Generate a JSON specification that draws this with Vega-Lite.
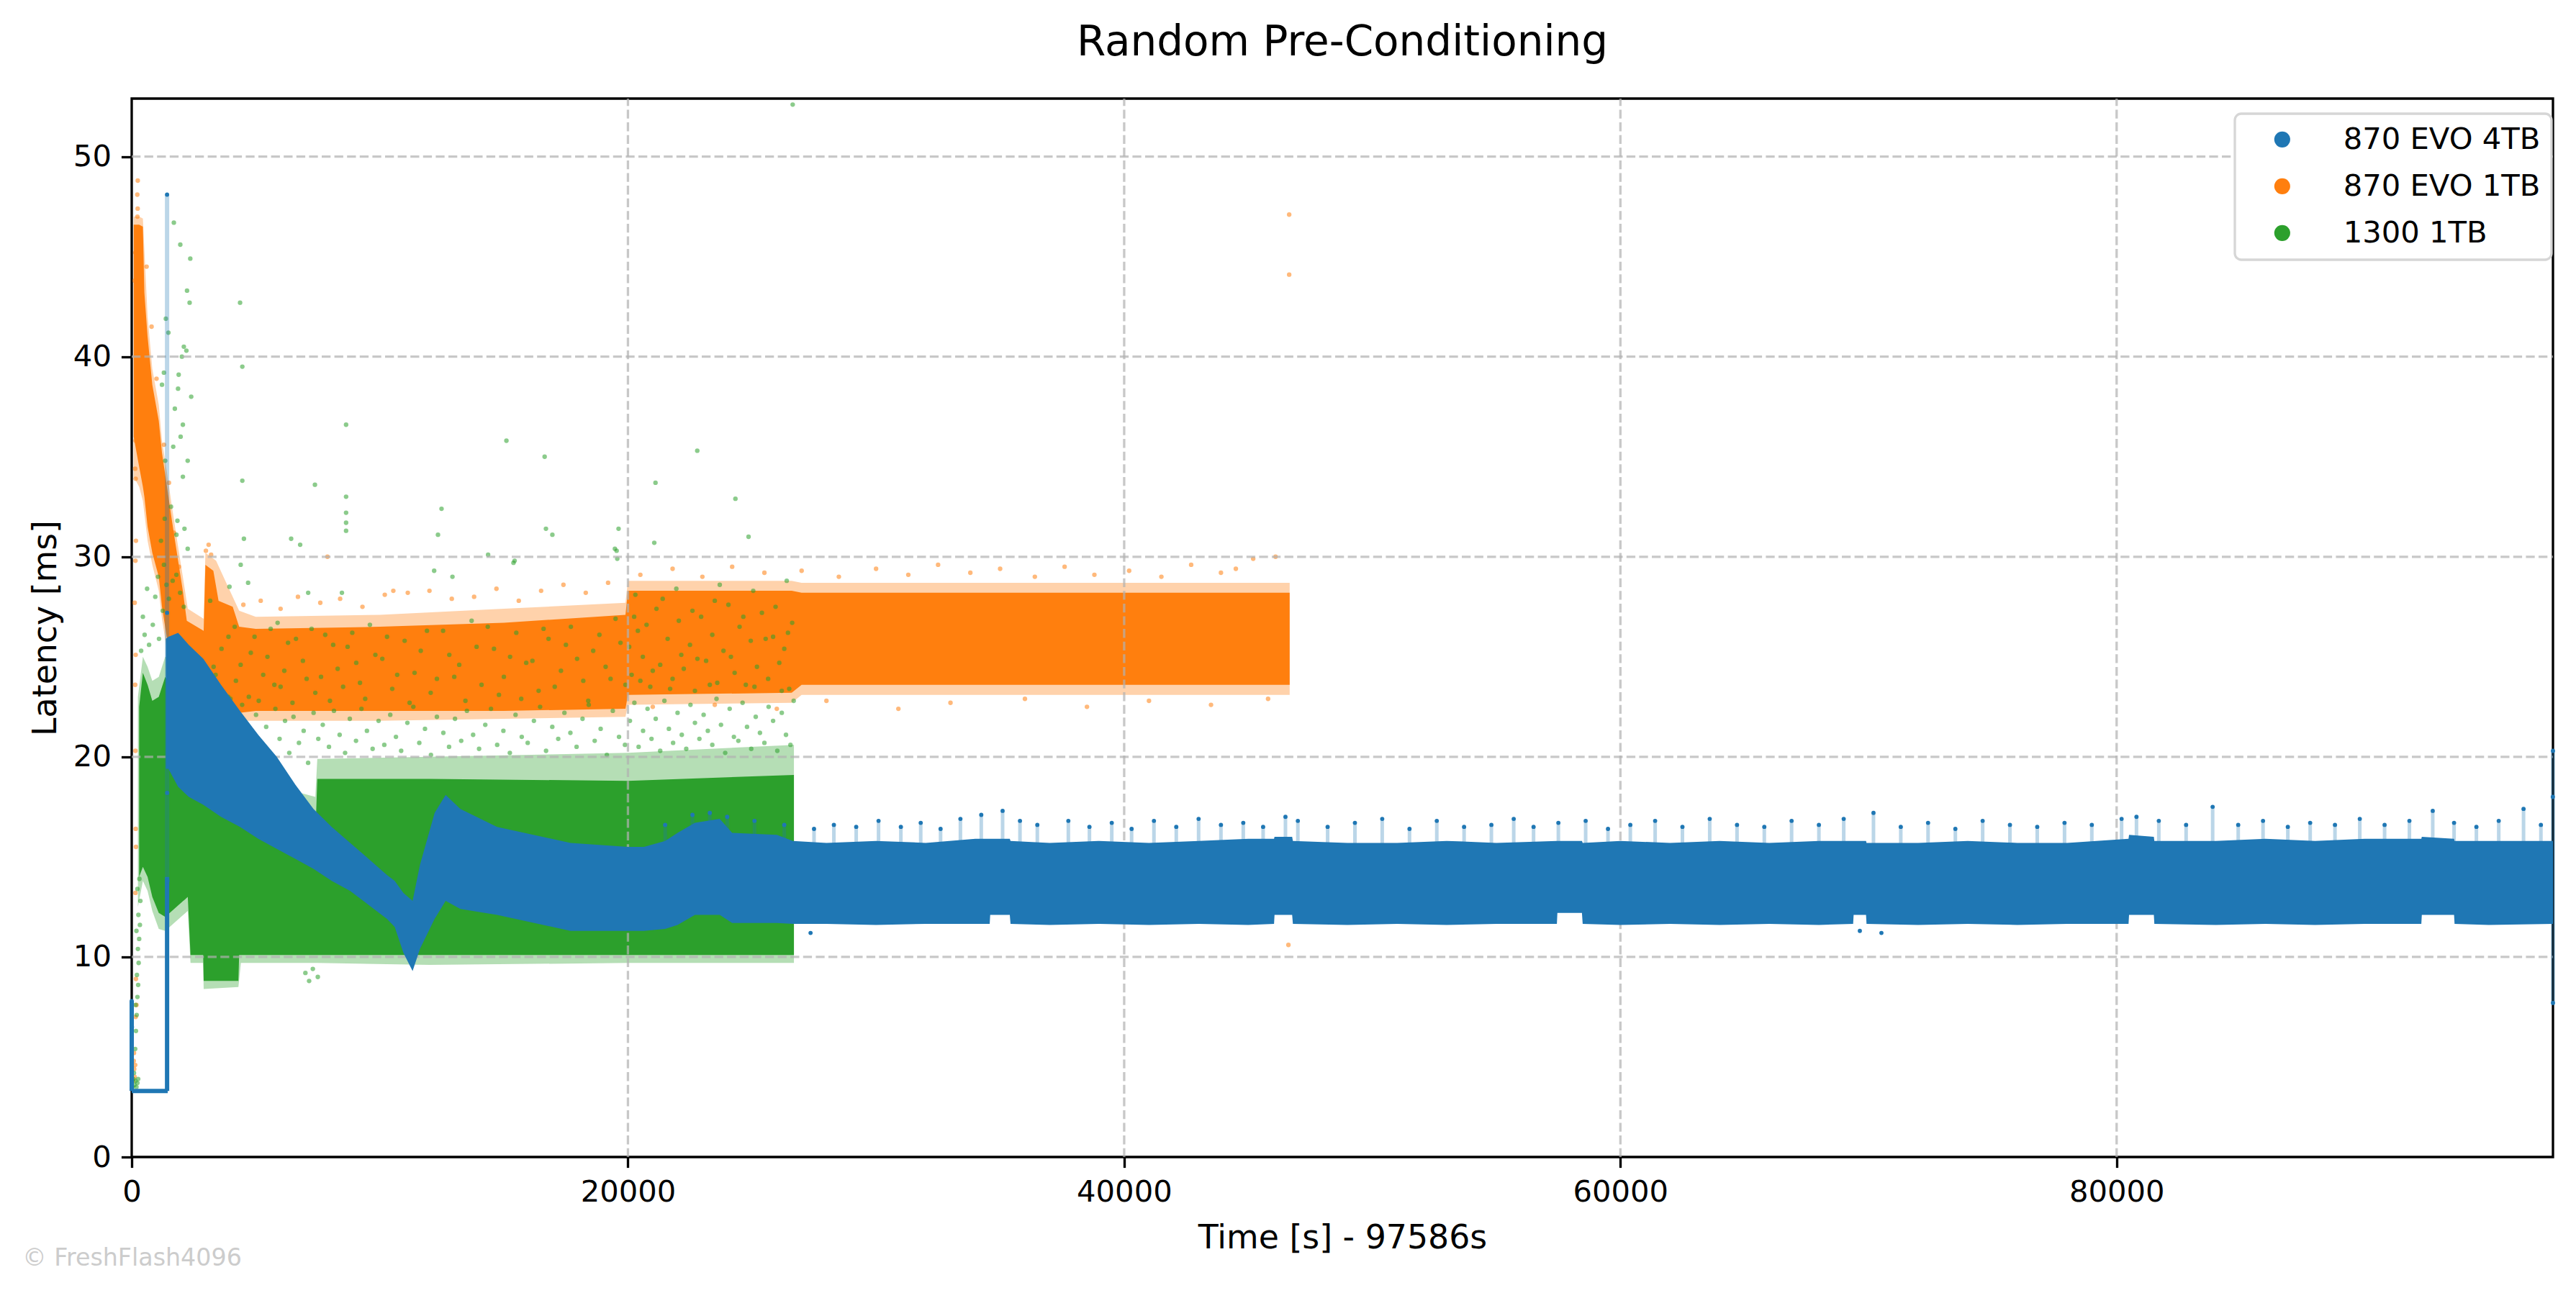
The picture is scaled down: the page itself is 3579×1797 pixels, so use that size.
{
  "$schema": "https://vega.github.io/schema/vega-lite/v6.json",
  "description": "Random Pre-Conditioning latency, three SSDs",
  "background": "white",
  "autosize": {"type": "none"},
  "padding": {"left": 183, "top": 137, "right": 32, "bottom": 189},
  "width": 3364,
  "height": 1471,
  "title": {"text": "Random Pre-Conditioning", "font": "DejaVu Sans", "fontSize": 58, "fontWeight": "normal", "color": "black", "anchor": "middle", "offset": 46},
  "datasets": {
    "oHalo": [
      {"x": 80, "y": 34, "y2": 47}, {"x": 300, "y": 33.5, "y2": 47}, {"x": 450, "y": 32.8, "y2": 46.9},
      {"x": 640, "y": 30.8, "y2": 42}, {"x": 830, "y": 29.6, "y2": 39.4}, {"x": 1090, "y": 28.3, "y2": 37.6},
      {"x": 1220, "y": 26.9, "y2": 35.8}, {"x": 1410, "y": 25.4, "y2": 34.3}, {"x": 1610, "y": 24.9, "y2": 32.6},
      {"x": 1870, "y": 24.2, "y2": 30.5}, {"x": 2060, "y": 23.9, "y2": 29}, {"x": 2260, "y": 23.9, "y2": 27.4},
      {"x": 2900, "y": 23.5, "y2": 26.9}, {"x": 2970, "y": 23.5, "y2": 30.2}, {"x": 3400, "y": 23.2, "y2": 29.8},
      {"x": 3810, "y": 22.4, "y2": 28.7}, {"x": 4330, "y": 21.8, "y2": 27.3}, {"x": 5000, "y": 21.8, "y2": 27},
      {"x": 10000, "y": 21.8, "y2": 27.1}, {"x": 15000, "y": 21.9, "y2": 27.4}, {"x": 19900, "y": 22, "y2": 27.7},
      {"x": 20000, "y": 22.6, "y2": 28.8}, {"x": 26600, "y": 22.7, "y2": 28.8}, {"x": 27000, "y": 23.1, "y2": 28.7},
      {"x": 46670, "y": 23.1, "y2": 28.7}
    ],
    "oCore": [
      {"x": 80, "y": 36, "y2": 46.6}, {"x": 300, "y": 34.5, "y2": 46.6}, {"x": 450, "y": 33.5, "y2": 46.5},
      {"x": 510, "y": 33, "y2": 43.2}, {"x": 640, "y": 31.5, "y2": 41}, {"x": 830, "y": 30.2, "y2": 38.6},
      {"x": 1090, "y": 29, "y2": 36.8}, {"x": 1220, "y": 27.5, "y2": 35.2}, {"x": 1410, "y": 26, "y2": 33.6},
      {"x": 1610, "y": 25.5, "y2": 31.9}, {"x": 1870, "y": 24.8, "y2": 29.8}, {"x": 2060, "y": 24.5, "y2": 28.3},
      {"x": 2220, "y": 24.5, "y2": 26.8}, {"x": 2900, "y": 24.2, "y2": 26.3}, {"x": 2970, "y": 24, "y2": 29.6},
      {"x": 3290, "y": 23.8, "y2": 29.3}, {"x": 3500, "y": 23.2, "y2": 27.8}, {"x": 4070, "y": 22.2, "y2": 27.5},
      {"x": 4330, "y": 22.2, "y2": 26.5}, {"x": 5000, "y": 22.3, "y2": 26.4}, {"x": 10000, "y": 22.3, "y2": 26.5},
      {"x": 15000, "y": 22.3, "y2": 26.7}, {"x": 19900, "y": 22.4, "y2": 27.1}, {"x": 20000, "y": 23.1, "y2": 28.3},
      {"x": 26600, "y": 23.2, "y2": 28.3}, {"x": 27000, "y": 23.6, "y2": 28.2}, {"x": 46670, "y": 23.6, "y2": 28.2}
    ],
    "gHalo": [
      {"x": 250, "y": 12.5, "y2": 23}, {"x": 450, "y": 13.8, "y2": 25}, {"x": 640, "y": 13.3, "y2": 24.5},
      {"x": 830, "y": 12.3, "y2": 23.8}, {"x": 1090, "y": 11.4, "y2": 24}, {"x": 1350, "y": 11.3, "y2": 25},
      {"x": 2260, "y": 12.3, "y2": 24.5}, {"x": 2370, "y": 9.7, "y2": 21}, {"x": 2880, "y": 9.7, "y2": 20.5},
      {"x": 2900, "y": 8.4, "y2": 20.5}, {"x": 4300, "y": 8.5, "y2": 19.5}, {"x": 4400, "y": 9.7, "y2": 19},
      {"x": 7400, "y": 9.7, "y2": 18}, {"x": 7480, "y": 9.7, "y2": 19.9}, {"x": 12000, "y": 9.6, "y2": 20},
      {"x": 20000, "y": 9.7, "y2": 20.2}, {"x": 26690, "y": 9.7, "y2": 20.6}
    ],
    "gCore": [
      {"x": 300, "y": 14, "y2": 22.5}, {"x": 450, "y": 14.5, "y2": 24.2}, {"x": 640, "y": 14, "y2": 23.6},
      {"x": 830, "y": 13, "y2": 22.8}, {"x": 1090, "y": 12.2, "y2": 23}, {"x": 1350, "y": 12, "y2": 24},
      {"x": 2260, "y": 13, "y2": 22}, {"x": 2370, "y": 10.1, "y2": 19}, {"x": 2880, "y": 10.1, "y2": 18.5},
      {"x": 2900, "y": 8.8, "y2": 18.5}, {"x": 4300, "y": 8.8, "y2": 17.5}, {"x": 4330, "y": 10.1, "y2": 17.5},
      {"x": 7400, "y": 10.1, "y2": 16}, {"x": 7480, "y": 10.1, "y2": 18.9}, {"x": 12000, "y": 10.1, "y2": 18.9},
      {"x": 20000, "y": 10.1, "y2": 18.8}, {"x": 26690, "y": 10.1, "y2": 19.1}
    ],
    "bCore": [
      {"x": 1375, "y": 19.4, "y2": 25.9}, {"x": 1480, "y": 19.4, "y2": 26}, {"x": 1870, "y": 18.5, "y2": 26.2},
      {"x": 2300, "y": 18, "y2": 25.6}, {"x": 2885, "y": 17.6, "y2": 24.9}, {"x": 3600, "y": 17, "y2": 23.6},
      {"x": 4365, "y": 16.5, "y2": 22.3}, {"x": 5100, "y": 15.9, "y2": 21.1}, {"x": 5845, "y": 15.4, "y2": 20},
      {"x": 6600, "y": 14.9, "y2": 18.6}, {"x": 7325, "y": 14.4, "y2": 17.4}, {"x": 8060, "y": 13.8, "y2": 16.5},
      {"x": 8805, "y": 13.3, "y2": 15.7}, {"x": 9550, "y": 12.6, "y2": 14.9}, {"x": 10285, "y": 11.9, "y2": 14.1},
      {"x": 10600, "y": 11.5, "y2": 13.8}, {"x": 10950, "y": 10.2, "y2": 13.2}, {"x": 11321, "y": 9.3, "y2": 12.8},
      {"x": 11617, "y": 10.4, "y2": 14.6}, {"x": 12209, "y": 11.9, "y2": 17.2}, {"x": 12653, "y": 12.8, "y2": 18.1},
      {"x": 13245, "y": 12.4, "y2": 17.4}, {"x": 14725, "y": 12.1, "y2": 16.5}, {"x": 17685, "y": 11.3, "y2": 15.7},
      {"x": 20000, "y": 11.3, "y2": 15.5}, {"x": 20645, "y": 11.3, "y2": 15.5}, {"x": 21500, "y": 11.4, "y2": 15.8},
      {"x": 22000, "y": 11.6, "y2": 16.2}, {"x": 22700, "y": 12.1, "y2": 16.7},
      {"x": 23700, "y": 12.1, "y2": 16.9}, {"x": 24200, "y": 11.7, "y2": 16.2}, {"x": 26000, "y": 11.7, "y2": 16.1},
      {"x": 26650, "y": 11.65, "y2": 15.8}, {"x": 28000, "y": 11.65, "y2": 15.7}, {"x": 30000, "y": 11.6, "y2": 15.8},
      {"x": 32000, "y": 11.65, "y2": 15.7}, {"x": 34000, "y": 11.65, "y2": 15.9}, {"x": 34580, "y": 11.65, "y2": 15.9},
      {"x": 34600, "y": 12.1, "y2": 15.9}, {"x": 35390, "y": 12.1, "y2": 15.9}, {"x": 35420, "y": 11.65, "y2": 15.8},
      {"x": 37000, "y": 11.6, "y2": 15.7}, {"x": 39000, "y": 11.65, "y2": 15.8}, {"x": 41000, "y": 11.6, "y2": 15.7},
      {"x": 43000, "y": 11.65, "y2": 15.8}, {"x": 45000, "y": 11.6, "y2": 15.9}, {"x": 46040, "y": 11.65, "y2": 15.9},
      {"x": 46060, "y": 12.1, "y2": 16}, {"x": 46770, "y": 12.1, "y2": 16}, {"x": 46800, "y": 11.65, "y2": 15.8},
      {"x": 49000, "y": 11.6, "y2": 15.7}, {"x": 51000, "y": 11.65, "y2": 15.7}, {"x": 53000, "y": 11.6, "y2": 15.8},
      {"x": 55000, "y": 11.65, "y2": 15.7}, {"x": 57440, "y": 11.65, "y2": 15.8}, {"x": 57460, "y": 12.2, "y2": 15.8},
      {"x": 58450, "y": 12.2, "y2": 15.8}, {"x": 58480, "y": 11.65, "y2": 15.7}, {"x": 60000, "y": 11.6, "y2": 15.8},
      {"x": 62000, "y": 11.65, "y2": 15.7}, {"x": 64000, "y": 11.6, "y2": 15.8}, {"x": 66000, "y": 11.65, "y2": 15.7},
      {"x": 68000, "y": 11.6, "y2": 15.8}, {"x": 69380, "y": 11.65, "y2": 15.8}, {"x": 69400, "y": 12.1, "y2": 15.8},
      {"x": 69900, "y": 12.1, "y2": 15.8}, {"x": 69920, "y": 11.65, "y2": 15.7}, {"x": 72000, "y": 11.6, "y2": 15.7},
      {"x": 74000, "y": 11.65, "y2": 15.8}, {"x": 76000, "y": 11.6, "y2": 15.7}, {"x": 78000, "y": 11.65, "y2": 15.7},
      {"x": 80480, "y": 11.65, "y2": 15.9}, {"x": 80500, "y": 12.1, "y2": 16.1}, {"x": 81500, "y": 12.1, "y2": 16},
      {"x": 81520, "y": 11.65, "y2": 15.8}, {"x": 84000, "y": 11.6, "y2": 15.8}, {"x": 86000, "y": 11.65, "y2": 15.9},
      {"x": 88000, "y": 11.6, "y2": 15.8}, {"x": 90000, "y": 11.65, "y2": 15.9}, {"x": 92280, "y": 11.65, "y2": 15.9},
      {"x": 92300, "y": 12.1, "y2": 16}, {"x": 93600, "y": 12.1, "y2": 15.9}, {"x": 93620, "y": 11.65, "y2": 15.8},
      {"x": 95000, "y": 11.6, "y2": 15.8}, {"x": 97586, "y": 11.65, "y2": 15.8}
    ],
    "oPts": [
      {"x": 244, "y": 48.8}, {"x": 225, "y": 48.1}, {"x": 240, "y": 47.4}, {"x": 230, "y": 47}, {"x": 150, "y": 45.2},
      {"x": 120, "y": 43.8}, {"x": 158, "y": 35.8}, {"x": 140, "y": 34.4}, {"x": 160, "y": 33.9}, {"x": 170, "y": 30.8},
      {"x": 150, "y": 29.8}, {"x": 120, "y": 27.7}, {"x": 160, "y": 25.1}, {"x": 140, "y": 23.6}, {"x": 150, "y": 20.3},
      {"x": 160, "y": 16.4}, {"x": 170, "y": 15.5}, {"x": 150, "y": 13.2}, {"x": 170, "y": 8.9}, {"x": 190, "y": 7.6},
      {"x": 160, "y": 7}, {"x": 80, "y": 4.8}, {"x": 100, "y": 4.4}, {"x": 120, "y": 4}, {"x": 60, "y": 3.8},
      {"x": 140, "y": 4.6}, {"x": 90, "y": 5.2}, {"x": 600, "y": 44.5}, {"x": 800, "y": 41.5}, {"x": 1000, "y": 38.9},
      {"x": 1300, "y": 35.6}, {"x": 1500, "y": 33.7}, {"x": 1700, "y": 31.2}, {"x": 1900, "y": 29.5},
      {"x": 2990, "y": 30.3}, {"x": 3100, "y": 30.6}, {"x": 3200, "y": 30.1}, {"x": 4500, "y": 27.6}, {"x": 5200, "y": 27.8},
      {"x": 6000, "y": 27.4}, {"x": 6700, "y": 28}, {"x": 7600, "y": 27.7}, {"x": 7889, "y": 30}, {"x": 8400, "y": 27.9},
      {"x": 9300, "y": 27.5}, {"x": 10200, "y": 28.1}, {"x": 10544, "y": 28.3}, {"x": 11127, "y": 28.2}, {"x": 12000, "y": 28.3},
      {"x": 12900, "y": 27.9}, {"x": 13800, "y": 28}, {"x": 14700, "y": 28.4}, {"x": 15600, "y": 27.8}, {"x": 16500, "y": 28.3},
      {"x": 17400, "y": 28.6}, {"x": 18300, "y": 28.2}, {"x": 19200, "y": 28.7}, {"x": 20500, "y": 29.1}, {"x": 21800, "y": 29.4},
      {"x": 23000, "y": 29}, {"x": 24200, "y": 29.5}, {"x": 25500, "y": 29.2}, {"x": 27000, "y": 29.3}, {"x": 28500, "y": 29},
      {"x": 30000, "y": 29.4}, {"x": 31300, "y": 29.1}, {"x": 32500, "y": 29.6}, {"x": 33800, "y": 29.2}, {"x": 35000, "y": 29.4},
      {"x": 36400, "y": 29}, {"x": 37600, "y": 29.5}, {"x": 38800, "y": 29.1}, {"x": 40200, "y": 29.3}, {"x": 41500, "y": 29},
      {"x": 42700, "y": 29.6}, {"x": 43900, "y": 29.2}, {"x": 44500, "y": 29.4}, {"x": 45200, "y": 29.9}, {"x": 46100, "y": 30},
      {"x": 21000, "y": 22.5}, {"x": 23500, "y": 22.6}, {"x": 26000, "y": 22.4}, {"x": 28000, "y": 22.8}, {"x": 30900, "y": 22.4},
      {"x": 33000, "y": 22.7}, {"x": 36000, "y": 22.9}, {"x": 38500, "y": 22.5}, {"x": 41000, "y": 22.8}, {"x": 43500, "y": 22.6},
      {"x": 45800, "y": 22.9}, {"x": 46650, "y": 47.1}, {"x": 46650, "y": 44.1}, {"x": 46620, "y": 10.6}
    ],
    "gPts": [
      {"x": 30, "y": 3.5}, {"x": 70, "y": 3.9}, {"x": 110, "y": 3.6}, {"x": 150, "y": 3.8}, {"x": 190, "y": 3.5},
      {"x": 230, "y": 3.7}, {"x": 260, "y": 3.9}, {"x": 90, "y": 4.2}, {"x": 140, "y": 5.4}, {"x": 170, "y": 6.3},
      {"x": 200, "y": 7.1}, {"x": 160, "y": 7.6}, {"x": 230, "y": 8}, {"x": 260, "y": 8.6}, {"x": 210, "y": 9.1},
      {"x": 280, "y": 9.7}, {"x": 250, "y": 10.4}, {"x": 300, "y": 10.9}, {"x": 330, "y": 11.6}, {"x": 270, "y": 12.1},
      {"x": 190, "y": 11.3}, {"x": 350, "y": 12.8}, {"x": 230, "y": 13.4}, {"x": 310, "y": 13.9},
      {"x": 380, "y": 25.3}, {"x": 520, "y": 26.1}, {"x": 450, "y": 27}, {"x": 700, "y": 25.6}, {"x": 850, "y": 26.6},
      {"x": 950, "y": 28}, {"x": 1100, "y": 25.9}, {"x": 1250, "y": 27.3}, {"x": 1300, "y": 29.6}, {"x": 1180, "y": 30.8},
      {"x": 1330, "y": 31.9}, {"x": 1060, "y": 29}, {"x": 620, "y": 28.4}, {"x": 1400, "y": 28.6}, {"x": 1500, "y": 27.9},
      {"x": 1650, "y": 28.8}, {"x": 1800, "y": 29.1}, {"x": 1950, "y": 28.2}, {"x": 2100, "y": 27.5},
      {"x": 1699, "y": 46.7}, {"x": 1958, "y": 45.6}, {"x": 2360, "y": 44.9}, {"x": 2230, "y": 43.3}, {"x": 2334, "y": 42.7},
      {"x": 4367, "y": 42.7}, {"x": 1375, "y": 41.9}, {"x": 1479, "y": 41.2}, {"x": 2101, "y": 40.5}, {"x": 2204, "y": 40.3},
      {"x": 2023, "y": 40}, {"x": 4458, "y": 39.5}, {"x": 1893, "y": 39.1}, {"x": 1298, "y": 39.2}, {"x": 2398, "y": 38},
      {"x": 1868, "y": 38.4}, {"x": 8640, "y": 36.6}, {"x": 1220, "y": 38.6}, {"x": 1738, "y": 37.4}, {"x": 2062, "y": 36.6},
      {"x": 1971, "y": 36}, {"x": 1673, "y": 35.5}, {"x": 2256, "y": 34.8}, {"x": 1350, "y": 34.8}, {"x": 2062, "y": 34},
      {"x": 4458, "y": 33.8}, {"x": 7384, "y": 33.6}, {"x": 15102, "y": 35.8}, {"x": 16643, "y": 35}, {"x": 8640, "y": 33},
      {"x": 8640, "y": 32.2}, {"x": 8640, "y": 31.7}, {"x": 8640, "y": 31.3}, {"x": 12487, "y": 32.4}, {"x": 12344, "y": 31.1},
      {"x": 16695, "y": 31.4}, {"x": 16954, "y": 31.1}, {"x": 19622, "y": 31.4}, {"x": 4522, "y": 30.9}, {"x": 6426, "y": 30.9},
      {"x": 6789, "y": 30.6}, {"x": 14364, "y": 30.1}, {"x": 19544, "y": 30.3}, {"x": 1842, "y": 31.8}, {"x": 2127, "y": 31.4},
      {"x": 1583, "y": 32.5}, {"x": 1803, "y": 31.1}, {"x": 2256, "y": 30.4}, {"x": 4393, "y": 29.6}, {"x": 4691, "y": 28.7},
      {"x": 7112, "y": 28.2}, {"x": 8472, "y": 28.2}, {"x": 12189, "y": 29.3}, {"x": 12927, "y": 29}, {"x": 15387, "y": 29.7},
      {"x": 3940, "y": 28.5}, {"x": 3163, "y": 27.8}, {"x": 19570, "y": 29.9}, {"x": 26640, "y": 52.6}, {"x": 21110, "y": 33.7},
      {"x": 22794, "y": 35.3}, {"x": 24332, "y": 32.9}, {"x": 24861, "y": 31}, {"x": 21061, "y": 30.7}, {"x": 19474, "y": 30.4},
      {"x": 15433, "y": 29.8},
      {"x": 3300, "y": 24.5}, {"x": 3900, "y": 26}, {"x": 4200, "y": 23.8}, {"x": 4800, "y": 25.2}, {"x": 5300, "y": 24.1},
      {"x": 5600, "y": 26.4}, {"x": 6000, "y": 23.5}, {"x": 6300, "y": 25.7}, {"x": 6900, "y": 24.8}, {"x": 7400, "y": 23.2},
      {"x": 7800, "y": 26.1}, {"x": 8300, "y": 24.4}, {"x": 8700, "y": 25.5}, {"x": 9200, "y": 23.7}, {"x": 9600, "y": 26.6},
      {"x": 10100, "y": 24.9}, {"x": 10500, "y": 23.4}, {"x": 11000, "y": 25.8}, {"x": 11400, "y": 24.2}, {"x": 11900, "y": 26.3},
      {"x": 12300, "y": 23.9}, {"x": 12800, "y": 25.1}, {"x": 13200, "y": 24.6}, {"x": 13700, "y": 26.8}, {"x": 14100, "y": 23.6},
      {"x": 14600, "y": 25.4}, {"x": 15000, "y": 24}, {"x": 15500, "y": 26.2}, {"x": 15900, "y": 24.7}, {"x": 16400, "y": 23.3},
      {"x": 16800, "y": 25.9}, {"x": 17300, "y": 24.3}, {"x": 17700, "y": 26.5}, {"x": 18200, "y": 23.8}, {"x": 18600, "y": 25.3},
      {"x": 19100, "y": 24.5}, {"x": 19500, "y": 26.9}, {"x": 19900, "y": 23.6},
      {"x": 3450, "y": 23.1}, {"x": 3620, "y": 25.4}, {"x": 3980, "y": 22.9}, {"x": 4150, "y": 26.5}, {"x": 4390, "y": 24.6},
      {"x": 4720, "y": 23}, {"x": 4950, "y": 26}, {"x": 5120, "y": 22.8}, {"x": 5470, "y": 25}, {"x": 5750, "y": 23.6},
      {"x": 5880, "y": 26.7}, {"x": 6150, "y": 24.3}, {"x": 6480, "y": 22.7}, {"x": 6620, "y": 25.9}, {"x": 7050, "y": 23.9},
      {"x": 7250, "y": 26.4}, {"x": 7630, "y": 24}, {"x": 7990, "y": 22.8}, {"x": 8120, "y": 25.6}, {"x": 8520, "y": 23.5},
      {"x": 8890, "y": 26.2}, {"x": 9050, "y": 24.7}, {"x": 9410, "y": 22.9}, {"x": 9820, "y": 25.1}, {"x": 10290, "y": 26},
      {"x": 10700, "y": 24.1}, {"x": 11200, "y": 22.7}, {"x": 11650, "y": 25.3}, {"x": 12050, "y": 23.2}, {"x": 12550, "y": 26.3},
      {"x": 13000, "y": 24}, {"x": 13450, "y": 22.8}, {"x": 13900, "y": 25.5}, {"x": 14350, "y": 26.5}, {"x": 14800, "y": 23.1},
      {"x": 15250, "y": 25}, {"x": 15700, "y": 22.9}, {"x": 16150, "y": 24.8}, {"x": 16600, "y": 26.4}, {"x": 17050, "y": 23.5},
      {"x": 17500, "y": 25.6}, {"x": 17950, "y": 24.9}, {"x": 18400, "y": 22.8}, {"x": 18850, "y": 26.1}, {"x": 19300, "y": 23.9},
      {"x": 19700, "y": 25.7},
      {"x": 20150, "y": 24.1}, {"x": 20400, "y": 26.3}, {"x": 20600, "y": 25}, {"x": 20900, "y": 23.5}, {"x": 21150, "y": 27.4},
      {"x": 21300, "y": 24.6}, {"x": 21600, "y": 25.9}, {"x": 21800, "y": 23.9}, {"x": 22050, "y": 26.8}, {"x": 22250, "y": 24.4},
      {"x": 22500, "y": 25.6}, {"x": 22700, "y": 23.3}, {"x": 22950, "y": 27}, {"x": 23150, "y": 24.8}, {"x": 23400, "y": 26.1},
      {"x": 23600, "y": 23.7}, {"x": 23850, "y": 25.3}, {"x": 24050, "y": 27.6}, {"x": 24300, "y": 24.2}, {"x": 24500, "y": 26.5},
      {"x": 24750, "y": 23.6}, {"x": 24950, "y": 25.8}, {"x": 25200, "y": 24.5}, {"x": 25400, "y": 27.2}, {"x": 25650, "y": 23.9},
      {"x": 25850, "y": 26}, {"x": 26100, "y": 24.7}, {"x": 26300, "y": 25.4}, {"x": 26500, "y": 23.4}, {"x": 26620, "y": 26.7},
      {"x": 20300, "y": 28.1}, {"x": 21950, "y": 28.4}, {"x": 23700, "y": 28.6}, {"x": 25050, "y": 28.3}, {"x": 26400, "y": 28.8},
      {"x": 20050, "y": 25.5}, {"x": 20250, "y": 27}, {"x": 20500, "y": 23.8}, {"x": 20750, "y": 26.6}, {"x": 21000, "y": 24.3},
      {"x": 21400, "y": 27.9}, {"x": 21700, "y": 23.4}, {"x": 22150, "y": 25.1}, {"x": 22600, "y": 27.3}, {"x": 22800, "y": 24.9},
      {"x": 23300, "y": 23.6}, {"x": 23500, "y": 27.8}, {"x": 24150, "y": 25}, {"x": 24650, "y": 27}, {"x": 25100, "y": 23.5},
      {"x": 25550, "y": 25.9}, {"x": 25950, "y": 27.5}, {"x": 26200, "y": 23.3}, {"x": 26450, "y": 26.2},
      {"x": 2450, "y": 21.6}, {"x": 2620, "y": 22.9}, {"x": 2780, "y": 20.4}, {"x": 3050, "y": 23.4}, {"x": 3240, "y": 21.2},
      {"x": 3380, "y": 24.1}, {"x": 3560, "y": 22.3}, {"x": 3750, "y": 20.8}, {"x": 3890, "y": 23}, {"x": 4100, "y": 21.7},
      {"x": 4280, "y": 20.1}, {"x": 4450, "y": 22.6}, {"x": 4640, "y": 21}, {"x": 4830, "y": 19.8}, {"x": 5010, "y": 22.1},
      {"x": 5190, "y": 20.6}, {"x": 5420, "y": 21.5}, {"x": 5610, "y": 19.9}, {"x": 5790, "y": 22.4}, {"x": 5960, "y": 20.9},
      {"x": 6180, "y": 21.8}, {"x": 6350, "y": 20.2}, {"x": 6520, "y": 22}, {"x": 6740, "y": 20.7}, {"x": 6930, "y": 21.3},
      {"x": 7110, "y": 19.7}, {"x": 7330, "y": 22.2}, {"x": 7520, "y": 20.9}, {"x": 7700, "y": 21.6}, {"x": 7950, "y": 20.5},
      {"x": 8150, "y": 22.3}, {"x": 8380, "y": 21.1}, {"x": 8600, "y": 20.2}, {"x": 8790, "y": 21.9}, {"x": 9040, "y": 20.8},
      {"x": 9260, "y": 22.4}, {"x": 9480, "y": 21.3}, {"x": 9710, "y": 20.4}, {"x": 9950, "y": 21.8}, {"x": 10180, "y": 20.6},
      {"x": 10420, "y": 22.1}, {"x": 10650, "y": 21}, {"x": 10860, "y": 20.3}, {"x": 11110, "y": 21.7}, {"x": 11350, "y": 22.5},
      {"x": 11590, "y": 20.7}, {"x": 11820, "y": 21.4}, {"x": 12060, "y": 20.1}, {"x": 12300, "y": 22}, {"x": 12560, "y": 21.2},
      {"x": 12790, "y": 20.5}, {"x": 13030, "y": 21.9}, {"x": 13280, "y": 20.8}, {"x": 13510, "y": 22.3}, {"x": 13760, "y": 21.1},
      {"x": 14000, "y": 20.4}, {"x": 14250, "y": 21.6}, {"x": 14480, "y": 22.4}, {"x": 14730, "y": 20.6}, {"x": 14980, "y": 21.3},
      {"x": 15240, "y": 20.2}, {"x": 15470, "y": 22.1}, {"x": 15720, "y": 21}, {"x": 15960, "y": 20.7}, {"x": 16210, "y": 21.8},
      {"x": 16460, "y": 22.5}, {"x": 16700, "y": 20.3}, {"x": 16950, "y": 21.5}, {"x": 17190, "y": 20.9}, {"x": 17440, "y": 22.2},
      {"x": 17680, "y": 21.2}, {"x": 17930, "y": 20.5}, {"x": 18170, "y": 21.9}, {"x": 18420, "y": 22.6}, {"x": 18660, "y": 20.8},
      {"x": 18900, "y": 21.4}, {"x": 19150, "y": 20.1}, {"x": 19390, "y": 22.3}, {"x": 19640, "y": 21}, {"x": 19880, "y": 20.6},
      {"x": 20080, "y": 21.8}, {"x": 20260, "y": 22.7}, {"x": 20430, "y": 20.5}, {"x": 20610, "y": 21.3}, {"x": 20790, "y": 22.4},
      {"x": 20950, "y": 20.9}, {"x": 21120, "y": 21.9}, {"x": 21300, "y": 20.3}, {"x": 21470, "y": 22.8}, {"x": 21650, "y": 21.4},
      {"x": 21820, "y": 20.7}, {"x": 22000, "y": 22.2}, {"x": 22170, "y": 21.1}, {"x": 22350, "y": 20.4}, {"x": 22520, "y": 22.6},
      {"x": 22700, "y": 21.7}, {"x": 22880, "y": 20.9}, {"x": 23050, "y": 22.1}, {"x": 23220, "y": 21.3}, {"x": 23400, "y": 20.6},
      {"x": 23570, "y": 22.9}, {"x": 23750, "y": 21.6}, {"x": 23920, "y": 20.2}, {"x": 24100, "y": 22.4}, {"x": 24270, "y": 21},
      {"x": 24450, "y": 20.8}, {"x": 24620, "y": 22.7}, {"x": 24800, "y": 21.5}, {"x": 24970, "y": 20.4}, {"x": 25150, "y": 22},
      {"x": 25320, "y": 21.2}, {"x": 25500, "y": 20.7}, {"x": 25670, "y": 22.5}, {"x": 25850, "y": 21.8}, {"x": 26020, "y": 20.3},
      {"x": 26200, "y": 22.2}, {"x": 26370, "y": 21.1}, {"x": 26550, "y": 20.6}, {"x": 26680, "y": 22.8},
      {"x": 7000, "y": 9.2}, {"x": 7150, "y": 8.8}, {"x": 7300, "y": 9.4}, {"x": 7500, "y": 9}
    ],
    "bPts": [
      {"x": 1425, "y": 48.1}, {"x": 1425, "y": 27.2}, {"x": 1430, "y": 18.2}, {"x": 1440, "y": 13.8},
      {"x": 0, "y": 7.8}, {"x": 10, "y": 6.5}, {"x": 97586, "y": 20.3}, {"x": 97586, "y": 7.7}, {"x": 97580, "y": 18},
      {"x": 27360, "y": 11.2}, {"x": 70520, "y": 11.2}, {"x": 69650, "y": 11.3}
    ],
    "bSpk": [
      {"x": 21500, "y": 16.6}, {"x": 22600, "y": 17.1}, {"x": 23300, "y": 17.2}, {"x": 24000, "y": 17}, {"x": 25100, "y": 16.8},
      {"x": 26300, "y": 16.6}, {"x": 27500, "y": 16.4}, {"x": 28300, "y": 16.6}, {"x": 29200, "y": 16.5}, {"x": 30100, "y": 16.8},
      {"x": 31000, "y": 16.5}, {"x": 31800, "y": 16.7}, {"x": 32600, "y": 16.4}, {"x": 33400, "y": 16.9}, {"x": 34240, "y": 17.1},
      {"x": 35100, "y": 17.3}, {"x": 35800, "y": 16.8}, {"x": 36500, "y": 16.6}, {"x": 37750, "y": 16.8}, {"x": 38600, "y": 16.5},
      {"x": 39500, "y": 16.7}, {"x": 40300, "y": 16.4}, {"x": 41200, "y": 16.8}, {"x": 42100, "y": 16.5}, {"x": 43000, "y": 16.9},
      {"x": 43900, "y": 16.6}, {"x": 44800, "y": 16.7}, {"x": 45600, "y": 16.5}, {"x": 46500, "y": 17}, {"x": 47000, "y": 16.8},
      {"x": 48200, "y": 16.5}, {"x": 49300, "y": 16.7}, {"x": 50400, "y": 16.9}, {"x": 51500, "y": 16.4}, {"x": 52600, "y": 16.8},
      {"x": 53700, "y": 16.5}, {"x": 54800, "y": 16.6}, {"x": 55700, "y": 16.9}, {"x": 56500, "y": 16.5}, {"x": 57500, "y": 16.7},
      {"x": 58600, "y": 16.8}, {"x": 59500, "y": 16.4}, {"x": 60400, "y": 16.6}, {"x": 61400, "y": 16.8}, {"x": 62500, "y": 16.5},
      {"x": 63600, "y": 16.9}, {"x": 64700, "y": 16.6}, {"x": 65800, "y": 16.5}, {"x": 66900, "y": 16.8}, {"x": 68000, "y": 16.6},
      {"x": 69000, "y": 16.9}, {"x": 70200, "y": 17.2}, {"x": 71300, "y": 16.5}, {"x": 72400, "y": 16.7}, {"x": 73500, "y": 16.4},
      {"x": 74600, "y": 16.8}, {"x": 75700, "y": 16.6}, {"x": 76800, "y": 16.5}, {"x": 77900, "y": 16.7}, {"x": 79000, "y": 16.6},
      {"x": 80200, "y": 16.9}, {"x": 80800, "y": 17}, {"x": 81700, "y": 16.8}, {"x": 82800, "y": 16.6}, {"x": 83870, "y": 17.5},
      {"x": 84900, "y": 16.6}, {"x": 85900, "y": 16.8}, {"x": 86900, "y": 16.5}, {"x": 87800, "y": 16.7}, {"x": 88800, "y": 16.6},
      {"x": 89800, "y": 16.9}, {"x": 90800, "y": 16.6}, {"x": 91800, "y": 16.8}, {"x": 92740, "y": 17.3}, {"x": 93600, "y": 16.7},
      {"x": 94500, "y": 16.5}, {"x": 95400, "y": 16.8}, {"x": 96400, "y": 17.4}, {"x": 97100, "y": 16.6}
    ],
    "bFloor": [{"x": 0, "x2": 1450, "y": 3.3}],
    "bDense": [{"x": 0, "y": 3.3, "y2": 7.8}, {"x": 1425, "y": 3.3, "y2": 14}],
    "bLight": [{"x": 1425, "y": 14, "y2": 48.1}, {"x": 97586, "y": 7.7, "y2": 20.3}],
    "gridX": [{"x": 20000, "y": 0, "y2": 52.9}, {"x": 40000, "y": 0, "y2": 52.9}, {"x": 60000, "y": 0, "y2": 52.9}, {"x": 80000, "y": 0, "y2": 52.9}],
    "gridY": [{"y": 10, "x": 0, "x2": 97586}, {"y": 20, "x": 0, "x2": 97586}, {"y": 30, "x": 0, "x2": 97586}, {"y": 40, "x": 0, "x2": 97586}, {"y": 50, "x": 0, "x2": 97586}],
    "mark": [{"x": -4399, "y": -5.43, "t": "© FreshFlash4096"}]
  },
  "encoding": {
    "x": {"field": "x", "type": "quantitative", "title": "Time [s] - 97586s",
          "scale": {"domain": [0, 97586], "nice": false, "zero": false},
          "axis": {"values": [0, 20000, 40000, 60000, 80000], "format": "d", "labelFlush": false, "titlePadding": 20}},
    "y": {"field": "y", "type": "quantitative", "title": "Latency [ms]",
          "scale": {"domain": [0, 52.9], "nice": false},
          "axis": {"values": [0, 10, 20, 30, 40, 50], "titlePadding": 14}}
  },
  "layer": [
    {"data": {"name": "oHalo"}, "mark": {"type": "area", "color": "#ff7f0e", "opacity": 0.35, "clip": true}, "encoding": {"y2": {"field": "y2"}}},
    {"data": {"name": "oCore"}, "mark": {"type": "area", "color": "#ff7f0e", "clip": true}, "encoding": {"y2": {"field": "y2"}}},
    {"data": {"name": "oPts"}, "mark": {"type": "point", "filled": true, "size": 40, "opacity": 0.55, "clip": true},
     "encoding": {"color": {"datum": "870 EVO 1TB", "scale": {"domain": ["870 EVO 4TB", "870 EVO 1TB", "1300 1TB"], "range": ["#1f77b4", "#ff7f0e", "#2ca02c"]}}}},
    {"data": {"name": "gHalo"}, "mark": {"type": "area", "color": "#2ca02c", "opacity": 0.35, "clip": true}, "encoding": {"y2": {"field": "y2"}}},
    {"data": {"name": "gCore"}, "mark": {"type": "area", "color": "#2ca02c", "clip": true}, "encoding": {"y2": {"field": "y2"}}},
    {"data": {"name": "gPts"}, "mark": {"type": "point", "filled": true, "size": 40, "opacity": 0.55, "clip": true},
     "encoding": {"color": {"datum": "1300 1TB", "scale": {"domain": ["870 EVO 4TB", "870 EVO 1TB", "1300 1TB"], "range": ["#1f77b4", "#ff7f0e", "#2ca02c"]}}}},
    {"data": {"name": "gridX"}, "mark": {"type": "rule", "color": "#b0b0b0", "opacity": 0.7, "strokeWidth": 3.3, "strokeDash": [12.3, 5.3]}, "encoding": {"y2": {"field": "y2"}}},
    {"data": {"name": "gridY"}, "mark": {"type": "rule", "color": "#b0b0b0", "opacity": 0.7, "strokeWidth": 3.3, "strokeDash": [12.3, 5.3]}, "encoding": {"x2": {"field": "x2"}}},
    {"data": {"name": "bSpk"}, "mark": {"type": "rule", "color": "#1f77b4", "opacity": 0.3, "strokeWidth": 5}, "encoding": {"y2": {"datum": 15.4}}},
    {"data": {"name": "bLight"}, "mark": {"type": "rule", "color": "#1f77b4", "opacity": 0.3, "strokeWidth": 6}, "encoding": {"y2": {"field": "y2"}}},
    {"data": {"name": "bDense"}, "mark": {"type": "rule", "color": "#1f77b4", "strokeWidth": 6}, "encoding": {"y2": {"field": "y2"}}},
    {"data": {"name": "bFloor"}, "mark": {"type": "rule", "color": "#1f77b4", "strokeWidth": 6}, "encoding": {"x2": {"field": "x2"}}},
    {"data": {"name": "bCore"}, "mark": {"type": "area", "color": "#1f77b4", "clip": true}, "encoding": {"y2": {"field": "y2"}}},
    {"data": {"name": "bSpk"}, "mark": {"type": "point", "filled": true, "size": 34, "opacity": 1},
     "encoding": {"color": {"datum": "870 EVO 4TB", "scale": {"domain": ["870 EVO 4TB", "870 EVO 1TB", "1300 1TB"], "range": ["#1f77b4", "#ff7f0e", "#2ca02c"]}}}},
    {"data": {"name": "bPts"}, "mark": {"type": "point", "filled": true, "size": 34, "opacity": 1},
     "encoding": {"color": {"datum": "870 EVO 4TB", "scale": {"domain": ["870 EVO 4TB", "870 EVO 1TB", "1300 1TB"], "range": ["#1f77b4", "#ff7f0e", "#2ca02c"]}}}},
    {"data": {"name": "mark"}, "mark": {"type": "text", "font": "DejaVu Sans", "fontSize": 33.3, "color": "#cccccc", "align": "left", "baseline": "alphabetic"},
     "encoding": {"text": {"field": "t"}}}
  ],
  "config": {
    "view": {"stroke": "black", "strokeWidth": 3.33},
    "axis": {"grid": false, "domain": false, "ticks": true, "tickSize": 14.6, "tickWidth": 3.33, "tickColor": "black",
             "labelFont": "DejaVu Sans", "labelFontSize": 41.7, "labelColor": "black", "labelPadding": 14,
             "titleFont": "DejaVu Sans", "titleFontSize": 45.8, "titleFontWeight": "normal", "titleColor": "black"},
    "legend": {"title": null, "orient": "none", "legendX": 2922, "legendY": 21, "symbolType": "circle", "symbolSize": 490, "symbolOpacity": 1, "symbolStrokeWidth": 0,
               "labelFont": "DejaVu Sans", "labelFontSize": 41.7, "labelColor": "black", "labelLimit": 1000, "fillColor": "white", "strokeColor": "#d6d6d6", "strokeWidth": 3.3,
               "cornerRadius": 9, "padding": 15, "rowPadding": 22, "labelOffset": 64, "symbolOffset": 30}
  }
}
